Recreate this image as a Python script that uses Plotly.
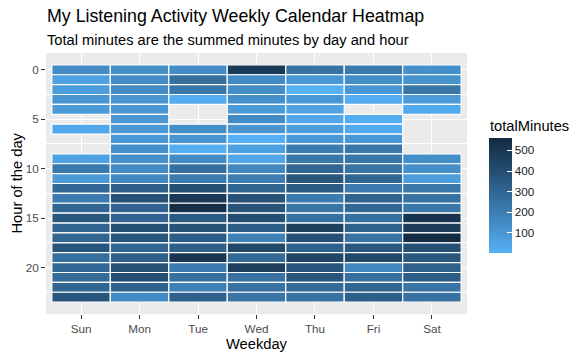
import plotly.graph_objects as go

days = ["Sun", "Mon", "Tue", "Wed", "Thu", "Fri", "Sat"]
hours = list(range(24))

sun = [150, 60, 80, 110, 90, None, 40, None, None, 60, 220, 90, 290, 210, 300, 360, 310, 300, 370, 260, 290, 280, 300, 370]
mon = [140, 150, 150, 110, 100, 100, 100, 100, 130, 130, 150, 160, 330, 390, 310, 310, 390, 370, 300, 330, 380, 400, 320, 150]
tue = [150, 260, 230, 20, None, None, 140, 110, 20, 150, 260, 210, 390, 490, 540, 350, 380, 340, 330, 510, 210, 260, 190, 320]
wed = [490, 150, 140, 130, 90, 150, 110, 10, 70, 40, 160, 200, 300, 380, 380, 400, 340, 190, 430, 280, 470, 250, 250, 240]
thu = [250, 100, 3, 100, 60, 40, 80, 100, 210, 230, 300, 370, 350, 210, 240, 260, 460, 400, 320, 440, 370, 370, 280, 250]
fri = [220, 140, 100, 20, None, 20, 30, 100, 230, 230, 240, 300, 210, 310, 290, 260, 320, 250, 360, 430, 160, 260, 300, 330]
sat = [130, 120, 230, 90, 30, None, None, None, None, 140, 130, 80, 230, 250, 230, 520, 480, 560, 400, 360, 320, 340, 240, 250]

series = [sun, mon, tue, wed, thu, fri, sat]

# ---- Lab-space gradient like ggplot's scale_fill_gradient ----
def srgb_to_lin(c):
    c = c / 255.0
    return c / 12.92 if c <= 0.04045 else ((c + 0.055) / 1.055) ** 2.4

def lin_to_srgb(c):
    c = max(0.0, min(1.0, c))
    v = 12.92 * c if c <= 0.0031308 else 1.055 * c ** (1 / 2.4) - 0.055
    return round(v * 255)

def hex_to_lab(h):
    r, g, b = [srgb_to_lin(int(h[i:i + 2], 16)) for i in (1, 3, 5)]
    X = 0.4124 * r + 0.3576 * g + 0.1805 * b
    Y = 0.2126 * r + 0.7152 * g + 0.0722 * b
    Z = 0.0193 * r + 0.1192 * g + 0.9505 * b
    Xn, Yn, Zn = 0.95047, 1.0, 1.08883
    def f(t):
        return t ** (1 / 3) if t > 0.008856 else 7.787 * t + 16 / 116
    fx, fy, fz = f(X / Xn), f(Y / Yn), f(Z / Zn)
    return (116 * fy - 16, 500 * (fx - fy), 200 * (fy - fz))

def lab_to_rgb(L, a, b):
    fy = (L + 16) / 116
    fx = fy + a / 500
    fz = fy - b / 200
    def finv(t):
        return t ** 3 if t ** 3 > 0.008856 else (t - 16 / 116) / 7.787
    X, Y, Z = 0.95047 * finv(fx), finv(fy), 1.08883 * finv(fz)
    r = 3.2406 * X - 1.5372 * Y - 0.4986 * Z
    g = -0.9689 * X + 1.8758 * Y + 0.0415 * Z
    bb = 0.0557 * X - 0.2040 * Y + 1.0570 * Z
    return "rgb(%d,%d,%d)" % (lin_to_srgb(r), lin_to_srgb(g), lin_to_srgb(bb))

low, high = hex_to_lab("#56B1F7"), hex_to_lab("#132B43")
n = 16
colorscale = []
for i in range(n + 1):
    t = i / n
    L = low[0] + (high[0] - low[0]) * t
    a = low[1] + (high[1] - low[1]) * t
    b = low[2] + (high[2] - low[2]) * t
    colorscale.append([t, lab_to_rgb(L, a, b)])

# ---- tiles as bars ----
xs, bases, vals = [], [], []
for d, col in zip(days, series):
    for h, v in zip(hours, col):
        if v is None:
            continue
        xs.append(d)
        bases.append(h - 0.5)
        vals.append(v)

# page body has an 8px default margin; compensate
OFF = 8
PL, PT, PW, PH = 46 - OFF, 53 - OFF, 421, 261

fig = go.Figure()
fig.add_trace(go.Bar(
    x=xs, y=[1] * len(xs), base=bases, width=1,
    marker=dict(
        color=vals, colorscale=colorscale, showscale=True,
        line=dict(color="white", width=1.2),
        colorbar=dict(
            title=dict(text=""),
            x=(489 - 46) / 421, xanchor="left", xref="paper", xpad=0,
            y=(314 - 195.5) / 261, yanchor="middle", ypad=0,
            len=115, lenmode="pixels", thickness=23, thicknessmode="pixels",
            outlinewidth=0,
            tickvals=[100, 200, 300, 400, 500],
            ticks="inside", ticklen=5, tickcolor="white", tickwidth=1,
            tickfont=dict(size=11.7, color="#1a1a1a", family="Liberation Sans, Arial"),
        ),
    ),
    hoverinfo="skip",
))

fig.update_layout(
    width=581, height=359,
    margin=dict(l=PL, r=581 - PL - PW, t=PT, b=359 - PT - PH, autoexpand=False),
    paper_bgcolor="white", plot_bgcolor="#EBEBEB",
    barmode="overlay", showlegend=False,
    font=dict(family="Liberation Sans, Arial", color="black"),
    xaxis=dict(
        type="category", categoryorder="array", categoryarray=days, automargin=False,
        range=[-0.6, 6.6], showgrid=True, gridcolor="white", gridwidth=1.1,
        zeroline=False, ticks="outside", ticklen=4, tickcolor="#333333", tickwidth=1,
        tickfont=dict(size=11.7, color="#4D4D4D"), showline=False,
    ),
    yaxis=dict(
        range=[24.7, -1.7], tickvals=[0, 5, 10, 15, 20], automargin=False,
        showgrid=True, gridcolor="white", gridwidth=1.1, zeroline=False,
        ticks="outside", ticklen=4, tickcolor="#333333", tickwidth=1,
        tickfont=dict(size=11.7, color="#4D4D4D"), showline=False,
        minor=dict(tickvals=[2.5, 7.5, 12.5, 17.5, 22.5], showgrid=True,
                   gridcolor="white", gridwidth=0.55, ticks=""),
    ),
    annotations=[
        dict(text="My Listening Activity Weekly Calendar Heatmap", xref="paper", yref="paper",
             x=(44.5 - 46) / 421, y=(314 - 16) / 261, xanchor="left", yanchor="middle",
             showarrow=False, font=dict(size=17.8, color="black")),
        dict(text="Total minutes are the summed minutes by day and hour", xref="paper", yref="paper",
             x=(44.5 - 46) / 421, y=(314 - 39.5) / 261, xanchor="left", yanchor="middle",
             showarrow=False, font=dict(size=14.7, color="black")),
        dict(text="Weekday", xref="paper", yref="paper", x=0.5, y=(314 - 344) / 261,
             xanchor="center", yanchor="middle", showarrow=False,
             font=dict(size=14.7, color="black")),
        dict(text="Hour of the day", xref="paper", yref="paper", x=(16 - 46) / 421, y=0.5,
             xanchor="center", yanchor="middle", textangle=-90, showarrow=False,
             font=dict(size=14.7, color="black")),
        dict(text="totalMinutes", xref="paper", yref="paper", x=(488 - 46) / 421,
             y=(314 - 125.5) / 261, xanchor="left", yanchor="middle", showarrow=False,
             font=dict(size=14.7, color="black")),
    ],
)

fig.write_html("out.html")
